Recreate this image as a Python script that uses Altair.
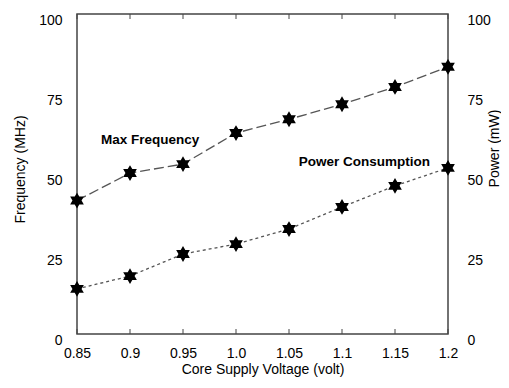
import altair as alt
import pandas as pd

voltage = [0.85, 0.9, 0.95, 1.0, 1.05, 1.1, 1.15, 1.2]
frequency = [41.7, 50.3, 53.1, 62.8, 67.1, 71.8, 77.2, 83.5]
power = [14.1, 18.1, 25.0, 28.1, 32.8, 39.7, 46.3, 51.9]
y_ticks = [0, 25, 50, 75, 100]

label_text = ["Max Frequency", "Power Consumption"]
label_x = [0.919, 1.121]
label_y = [60.6, 53.8]

df = pd.DataFrame({"v": voltage, "f": frequency, "p": power})
lab = pd.DataFrame({"t": label_text, "x": label_x, "y": label_y})

FONT = "Liberation Sans"
HEX = "M0,-1L0.2887,-0.5L0.866,-0.5L0.577,0L0.866,0.5L0.2887,0.5L0,1L-0.2887,0.5L-0.866,0.5L-0.577,0L-0.866,-0.5L-0.2887,-0.5Z"

xscale = alt.Scale(domain=[0.85, 1.2], nice=False, zero=False)
yscale = alt.Scale(domain=[0, 100], nice=False)

xaxis = alt.Axis(
    values=voltage, title="Core Supply Voltage (volt)", ticks=False, domain=False, grid=False,
    labelExpr="datum.value == 1 ? '1.0' : format(datum.value, '.2~f')",
    labelFlush=False, labelOverlap=False,
    labelFont=FONT, labelFontSize=14, labelColor="black", labelPadding=12,
    titleFont=FONT, titleFontSize=14, titleFontWeight="normal", titleColor="black", titlePadding=2,
)
x = alt.X("v:Q", scale=xscale, axis=xaxis)

left_axis = alt.Axis(
    values=y_ticks, title="Frequency (MHz)", ticks=False, domain=False, grid=False,
    labelFont=FONT, labelFontSize=14, labelColor="black", labelPadding=15, labelOffset=6,
    titleFont=FONT, titleFontSize=14, titleFontWeight="normal", titleColor="black", titlePadding=11,
    titleY=155,
)
right_axis = alt.Axis(
    values=y_ticks, title="Power (mW)", orient="right", ticks=False, domain=False, grid=False,
    labelFont=FONT, labelFontSize=14, labelColor="black", labelPadding=19, labelOffset=6,
    titleFont=FONT, titleFontSize=14, titleFontWeight="normal", titleColor="black", titlePadding=11,
    titleAngle=270, titleY=134,
)

base = alt.Chart(df)

freq_line = base.mark_line(color="#555555", strokeWidth=1.3, strokeDash=[10, 4]).encode(
    x=x, y=alt.Y("f:Q", scale=yscale, axis=left_axis)
)
freq_pts = base.mark_point(shape=HEX, size=250, filled=True, color="black", opacity=1).encode(
    x=x, y=alt.Y("f:Q", scale=yscale)
)
pow_line = base.mark_line(color="#555555", strokeWidth=1.3, strokeDash=[3, 3]).encode(
    x=x, y=alt.Y("p:Q", scale=yscale, axis=right_axis)
)
pow_pts = base.mark_point(shape=HEX, size=250, filled=True, color="black", opacity=1).encode(
    x=x, y=alt.Y("p:Q", scale=yscale)
)

texts = alt.Chart(lab).mark_text(font=FONT, fontSize=13.5, fontWeight="bold", color="black").encode(
    x=alt.X("x:Q", scale=xscale), y=alt.Y("y:Q", scale=yscale), text="t:N"
)

ticks_bottom = base.mark_rule(color="#444444", strokeWidth=1).encode(
    x=alt.X("v:Q", scale=xscale), y=alt.value(320), y2=alt.value(315)
)
ticks_top = base.mark_rule(color="#444444", strokeWidth=1).encode(
    x=alt.X("v:Q", scale=xscale), y=alt.value(0), y2=alt.value(5)
)

left = alt.layer(freq_line, freq_pts, texts, ticks_bottom, ticks_top)
right = alt.layer(pow_line, pow_pts)

chart = alt.layer(left, right).resolve_scale(y="independent").properties(
    width=371, height=320,
    padding={"left": 69, "top": 6, "right": 53, "bottom": 46},
    autosize="none",
    background="white",
).configure_view(stroke="#444444", strokeWidth=1.5)

chart.save("out.html", embed_options={"renderer": "svg", "actions": False})
